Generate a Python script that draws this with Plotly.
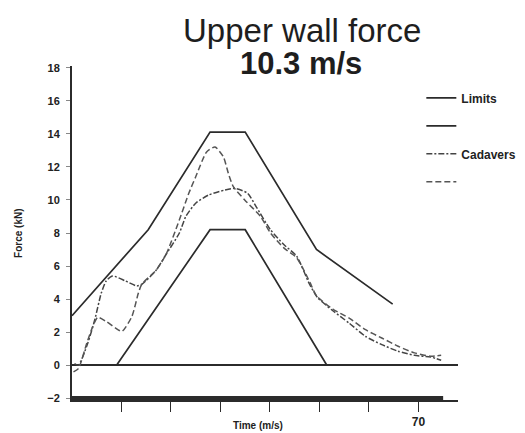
import plotly.graph_objects as go

# ---- data ----
upper_t = [0, 15.4, 27.9, 35.0, 49.4, 64.8]
upper_f = [3.0, 8.2, 14.1, 14.1, 7.0, 3.7]

lower_t = [9.0, 27.9, 35.0, 51.5]
lower_f = [0.0, 8.2, 8.2, 0.0]

cad1_t = [0.3, 1.3, 3.0, 4.2, 5.2, 6.9, 8.8, 10.1, 12.1, 13.4, 14.1, 17.0, 19.0, 21.7, 23.6,
          25.0, 27.2, 28.9, 30.6, 31.6, 32.6, 34.9, 38.1, 40.1, 42.8, 45.4, 48.1, 49.4, 52.7,
          56.0, 59.3, 62.6, 65.9, 69.2, 72.5, 74.6]
cad1_f = [-0.4, -0.2, 1.35, 2.35, 2.9, 2.65, 2.25, 2.05, 2.95, 4.35, 4.9, 5.75, 6.7, 8.8, 10.4,
          11.4, 12.9, 13.2, 12.6, 11.6, 10.8, 10.0, 9.0, 8.0, 7.1, 6.5, 5.0, 4.2, 3.4,
          2.85, 2.15, 1.65, 1.15, 0.75, 0.55, 0.6]

cad2_t = [0.5, 1.3, 3.2, 4.6, 5.9, 6.9, 8.2, 10.8, 13.1, 14.1, 17.0, 19.0, 21.7, 23.0, 25.0,
          27.6, 30.9, 32.9, 35.5, 37.2, 40.1, 42.8, 45.4, 48.0, 49.6, 52.7, 56.0, 59.3, 62.6,
          65.9, 69.2, 72.5, 74.6]
cad2_f = [0.1, 0.0, 1.35, 2.75, 4.35, 5.1, 5.4, 5.1, 4.8, 4.9, 5.75, 6.7, 8.0, 9.0, 9.8,
          10.3, 10.6, 10.7, 10.4, 9.6, 8.2, 7.3, 6.6, 4.9, 4.1, 3.3, 2.55, 1.75, 1.25,
          0.85, 0.6, 0.5, 0.3]

base_t = [0, 75]
base_f = [-2, -2]

y_ticks = [-2, 0, 2, 4, 6, 8, 10, 12, 14, 16, 18]
x_ticks = [10, 20, 30, 40, 50, 60, 70]
x_ticktext = ["", "", "", "", "", "", "70"]

INK = "#2b2b2b"

fig = go.Figure()
fig.add_trace(go.Scatter(x=upper_t, y=upper_f, mode="lines", name="Limits",
                         legendgroup="a", line=dict(color=INK, width=1.7)))
fig.add_trace(go.Scatter(x=lower_t, y=lower_f, mode="lines", name=" ",
                         legendgroup="b", line=dict(color=INK, width=1.7)))
fig.add_trace(go.Scatter(x=cad2_t, y=cad2_f, mode="lines", name="Cadavers",
                         legendgroup="c",
                         line=dict(color="#444444", width=1.5, dash="6px,2px,2px,2px",
                                   shape="spline", smoothing=0.6)))
fig.add_trace(go.Scatter(x=cad1_t, y=cad1_f, mode="lines", name=" ",
                         legendgroup="d",
                         line=dict(color="#555555", width=1.5, dash="6px,3px",
                                   shape="spline", smoothing=0.6)))
fig.add_trace(go.Scatter(x=base_t, y=base_f, mode="lines", showlegend=False,
                         line=dict(color=INK, width=4.5)))

fig.update_layout(
    width=525, height=433,
    margin=dict(l=64, r=67, t=58, b=37),
    paper_bgcolor="white", plot_bgcolor="white",
    font=dict(family="Liberation Sans, Arial, sans-serif", color="#222222"),
    showlegend=True,
    legend=dict(x=0.905, xanchor="left", y=0.948, yanchor="top",
                font=dict(size=12, weight="bold", color="#222222"),
                tracegroupgap=9, bgcolor="rgba(0,0,0,0)"),
    xaxis=dict(range=[0, 78], showgrid=False, zeroline=False,
               showline=True, linecolor=INK, linewidth=1.5,
               ticks="outside", ticklen=10, tickwidth=1.2, tickcolor=INK,
               tickvals=x_ticks, ticktext=x_ticktext,
               tickfont=dict(size=12, weight="bold", color="#222222")),
    yaxis=dict(range=[-2.1, 18.1], showgrid=False,
               zeroline=True, zerolinecolor=INK, zerolinewidth=1.5,
               showline=True, linecolor=INK, linewidth=2,
               ticks="outside", ticklen=4, tickwidth=1, tickcolor="#888888",
               tickvals=y_ticks, ticklabelstandoff=4,
               tickfont=dict(size=11, weight="bold", color="#222222")),
    annotations=[
        dict(text="Upper wall force", xref="paper", yref="paper",
             x=0.596, y=1.1686, xanchor="center", yanchor="top", showarrow=False,
             font=dict(size=33, color="#1e1e1e")),
        dict(text="<b>10.3 m/s</b>", xref="paper", yref="paper",
             x=0.593, y=1.006, xanchor="center", yanchor="middle", showarrow=False,
             font=dict(size=31, color="#1e1e1e")),
        dict(text="<b>Time (m/s)</b>", xref="paper", yref="paper",
             x=0.482, y=-0.077, xanchor="center", yanchor="middle", showarrow=False,
             font=dict(size=10, color="#222222")),
        dict(text="<b>Force (kN)</b>", xref="paper", yref="paper",
             x=-0.14, y=0.5, xanchor="center", yanchor="middle", showarrow=False,
             textangle=-90, font=dict(size=10, color="#222222")),
    ],
)

fig.write_html("out.html")
